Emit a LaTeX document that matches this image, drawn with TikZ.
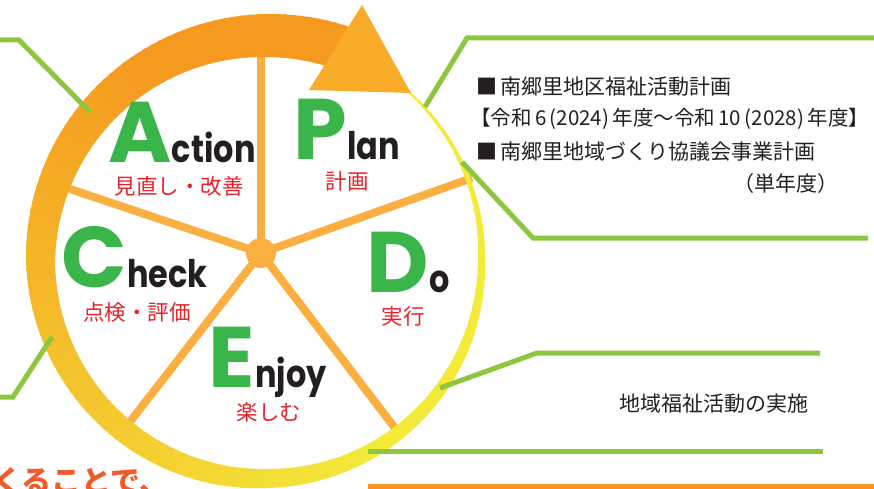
\documentclass[tikz,border=0pt]{standalone}
\usepackage{fontspec}
\setmainfont{Noto Sans CJK JP}
\newfontfamily\jp{Noto Sans CJK JP}
\newfontfamily\pd{Poppins}
\definecolor{ringY}{HTML}{F3EA3A}
\definecolor{ringO}{HTML}{F5991F}
\definecolor{arrowO}{HTML}{F9AB2A}
\definecolor{spokeC}{HTML}{FAAF40}
\definecolor{lineG}{HTML}{8DC63F}
\definecolor{letterG}{HTML}{39B54A}
\definecolor{txt}{HTML}{231F20}
\definecolor{labR}{HTML}{E8202A}
\definecolor{botO}{HTML}{F7941D}
\definecolor{phraseR}{HTML}{F15A29}
\newcommand{\narrowword}[1]{\scalebox{0.84}[1]{#1}}
\tikzset{
  spoke/.style={spokeC, line width=8pt},
  callout/.style={lineG, line width=5pt},
  bigletter/.style={anchor=base west, inner sep=0pt, text=letterG, font=\pd\bfseries\fontsize{86}{86}\selectfont},
  restword/.style={anchor=base west, inner sep=0pt, text=txt, font=\pd\bfseries\fontsize{38}{38}\selectfont},
  redlab/.style={inner sep=0pt, text=labR, font=\jp\fontsize{21.5}{21.5}\selectfont},
  info/.style={anchor=west, inner sep=0pt, text=txt, font=\jp\fontsize{21}{21}\selectfont},
}
\begin{document}
\begin{tikzpicture}[x=1pt,y=-1pt,
  declare function={
    rin(\t)=(\t<0) ? (221-(\t+50)*0.18) : ((\t<90) ? (212-\t*0.0556) : ((\t<180) ? (207+(\t-90)*0.0444) : ((\t<270) ? (211-(\t-180)*0.0667) : 205)));
    rout(\t)=(\t<0) ? (223-(\t+50)*0.08) : ((\t<90) ? (219+\t*0.0778) : ((\t<180) ? (226+(\t-90)*0.1556) : ((\t<270) ? (240+(\t-180)*0.0889) : (248+(\t-270)*0.08))));
  }]
\useasboundingbox (0,0) rectangle (874,489);
\clip (0,0) rectangle (874,489);

% spokes
\coordinate (H) at (261,253);
\coordinate (sT) at (261,50);
\coordinate (sUR) at (472,178);
\coordinate (sLR) at (398,432);
\coordinate (sLL) at (126,427);
\coordinate (sUL) at (58,185);
\foreach \e in {sT,sUR,sLR,sLL,sUL} \draw[spoke] (H) -- (\e);
\fill[spokeC] (H) circle (15);

% ring with gradient
\begin{scope}[shift={(266,262)}]
\foreach \a in {-50,-48,...,290}{
  \pgfmathsetmacro\b{\a+2.6}
  \pgfmathtruncatemacro\p{max(0,min(100,(\a-60)/1.8))}
  \fill[ringO!\p!ringY] (\a:{rin(\a)}) -- (\b:{rin(\b)}) -- (\b:{rout(\b)}) -- (\a:{rout(\a)}) -- cycle;
}
\end{scope}
% arrow head
\coordinate (hL) at (309,90);
\coordinate (hT) at (362,5);
\coordinate (hR) at (411,93);
\fill[arrowO] (hL) -- (hT) -- (hR) -- cycle;

% callout lines
\coordinate (g1a) at (0,40); \coordinate (g1b) at (19,40); \coordinate (g1c) at (90,112);
\draw[callout] (g1a) -- (g1b) -- (g1c);
\coordinate (g2a) at (52,337); \coordinate (g2b) at (13,397); \coordinate (g2c) at (0,397);
\draw[callout] (g2a) -- (g2b) -- (g2c);
\coordinate (g3a) at (425,107); \coordinate (g3b) at (467,38); \coordinate (g3c) at (874,38);
\draw[callout] (g3a) -- (g3b) -- (g3c);
\coordinate (g4a) at (462,162); \coordinate (g4b) at (533,238); \coordinate (g4c) at (868,238);
\draw[callout] (g4a) -- (g4b) -- (g4c);
\coordinate (g5a) at (440,388); \coordinate (g5b) at (537,353); \coordinate (g5c) at (820,353);
\draw[callout] (g5a) -- (g5b) -- (g5c);
\coordinate (g6a) at (368,451); \coordinate (g6b) at (823,451);
\draw[callout] (g6a) -- (g6b);
\coordinate (o1a) at (368,486.5); \coordinate (o1b) at (874,486.5);
\draw[botO, line width=5pt] (o1a) -- (o1b);

% PDCA letters
\node[bigletter] (A) at (108,163) {A};
\node[restword] (Ar) at (A.base east) {\narrowword{ction}};
\node[redlab] (Al) at (179,186) {見直し・改善};
\node[bigletter] (P) at (293,160) {P};
\node[restword] (Pr) at (P.base east) {\narrowword{lan}};
\node[redlab] (Pl) at (347,181) {計画};
\node[bigletter] (C) at (61,287) {C};
\node[restword] (Cr) at (C.base east) {\narrowword{heck}};
\node[redlab] (Cl) at (137,312) {点検・評価};
\node[bigletter] (D) at (366,292) {D};
\node[restword] (Dr) at (D.base east) {\narrowword{o}};
\node[redlab] (Dl) at (403,316) {実行};
\node[bigletter] (E) at (208,387) {E};
\node[restword] (Er) at (E.base east) {\narrowword{njoy}};
\node[redlab] (El) at (269,412) {楽しむ};

% info texts
\node[info] (i1) at (476,87) {■\,南郷里地区福祉活動計画};
\node[info, font=\jp\fontsize{20.5}{20.5}\selectfont] (i2) at (470,119) {【令和\,6\,(2024)\,年度～令和\,10\,(2028)\,年度】};
\node[info] (i3) at (476,152) {■\,南郷里地域づくり協議会事業計画};
\node[info] (i4) at (733,184) {（単年度）};
\node[info] (i5) at (619,404) {地域福祉活動の実施};

% bottom phrase
\node[anchor=base west, inner sep=0pt, text=phraseR, font=\jp\bfseries\fontsize{30}{30}\selectfont] (ph) at (-8,492) {くることで、};
\end{tikzpicture}
\end{document}
